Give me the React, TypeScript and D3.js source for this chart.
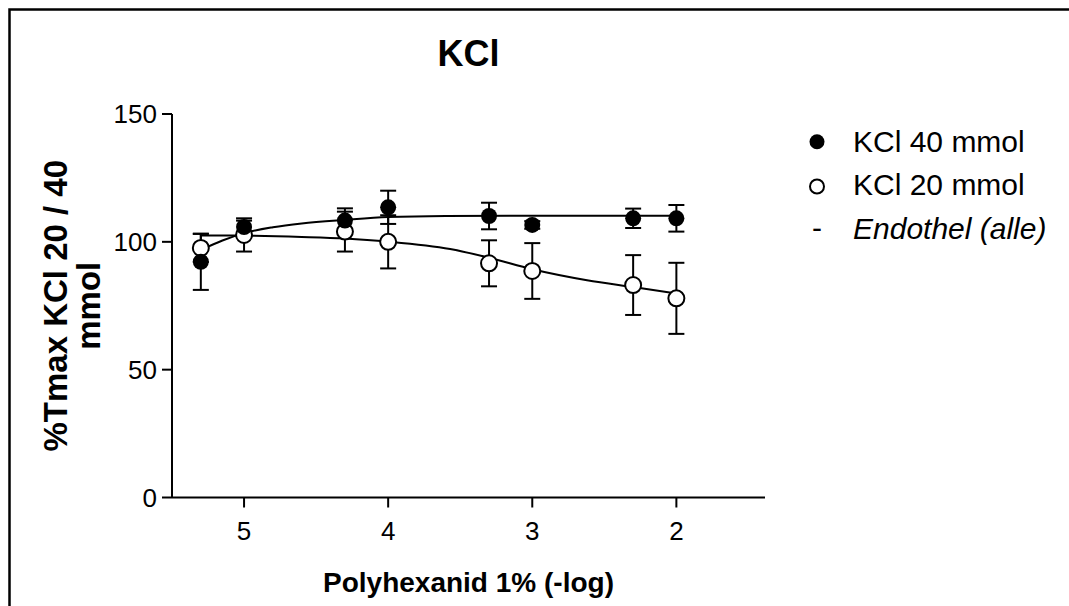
import * as d3 from "d3";

// Polyhexanid 1%, -log concentration
const DOSES = [5.3, 5.0, 4.3, 4.0, 3.3, 3.0, 2.3, 2.0];

// KCl 40 mmol (filled)
const KCL40_MEAN = [92.2, 105.8, 108.3, 113.5, 110.1, 106.6, 109.2, 109.2];
const KCL40_SEM = [11.0, 2.5, 4.8, 6.5, 5.2, 1.5, 3.8, 5.2];

// KCl 20 mmol (open)
const KCL20_MEAN = [97.6, 102.7, 104.0, 100.0, 91.6, 88.6, 83.1, 77.9];
const KCL20_SEM = [5.5, 6.5, 7.8, 10.4, 9.0, 10.9, 11.7, 13.9];

// fitted curves
const FIT40_X = [5.3, 5.15, 5.0, 4.8, 4.6, 4.3, 4.0, 3.6, 3.0, 2.0];
const FIT40_Y = [96.8, 100.5, 103.4, 105.7, 107.2, 108.6, 109.7, 110.1, 110.2, 110.2];
const FIT20_X = [5.3, 5.0, 4.6, 4.3, 4.0, 3.57, 3.3, 3.0, 2.62, 2.3, 2.0];
const FIT20_Y = [102.5, 102.4, 101.9, 101.3, 100.1, 97.2, 93.8, 89.3, 85.0, 82.3, 79.8];

const X_TICKS = [5, 4, 3, 2];
const Y_TICKS = [0, 50, 100, 150];

const LEGEND = ["KCl 40 mmol", "KCl 20 mmol", "Endothel (alle)"];

const FONT = "Arial, 'Liberation Sans', sans-serif";

export default function App() {
  const W = 1069;
  const H = 606;
  const x = d3.scaleLinear().domain([5.5, 1.385]).range([172, 765]);
  const y = d3.scaleLinear().domain([0, 150]).range([497.5, 114]);

  const line = d3
    .line<[number, number]>()
    .x((d) => x(d[0]))
    .y((d) => y(d[1]))
    .curve(d3.curveMonotoneX);

  const fit40 = FIT40_X.map((v, i) => [v, FIT40_Y[i]] as [number, number]);
  const fit20 = FIT20_X.map((v, i) => [v, FIT20_Y[i]] as [number, number]);

  const cap = 8;
  const r = 8;

  const errBars = (means: number[], sems: number[], key: string) =>
    DOSES.map((d, i) => {
      const cx = x(d);
      const y0 = y(means[i] - sems[i]);
      const y1 = y(means[i] + sems[i]);
      return (
        <g key={key + i} stroke="#000" strokeWidth={2}>
          <line x1={cx} x2={cx} y1={y0} y2={y1} />
          <line x1={cx - cap} x2={cx + cap} y1={y0} y2={y0} />
          <line x1={cx - cap} x2={cx + cap} y1={y1} y2={y1} />
        </g>
      );
    });

  const [x0, x1] = x.range();
  const [yb, yt] = y.range();

  return (
    <svg
      width={W}
      height={H}
      style={{ position: "absolute", left: 0, top: 0, background: "#fff" }}
      fontFamily={FONT}
    >
      <rect x={9.5} y={9.5} width={W + 20} height={H + 20} fill="#fff" stroke="#000" strokeWidth={2.5} />

      <text x={(x0 + x1) / 2} y={66} textAnchor="middle" fontWeight="bold" fontSize={36}>
        KCl
      </text>

      {/* axes */}
      <line x1={x0} x2={x0} y1={yt} y2={yb} stroke="#000" strokeWidth={2} />
      <line x1={x0} x2={x1} y1={yb} y2={yb} stroke="#000" strokeWidth={2} />
      {Y_TICKS.map((t) => (
        <g key={"yt" + t}>
          <line x1={x0 - 10} x2={x0} y1={y(t)} y2={y(t)} stroke="#000" strokeWidth={2} />
          <text x={x0 - 15} y={y(t)} dy="0.35em" textAnchor="end" fontSize={26}>
            {t}
          </text>
        </g>
      ))}
      {X_TICKS.map((t) => (
        <g key={"xt" + t}>
          <line x1={x(t)} x2={x(t)} y1={yb} y2={yb + 10} stroke="#000" strokeWidth={2} />
          <text x={x(t)} y={yb + 42} textAnchor="middle" fontSize={26}>
            {t}
          </text>
        </g>
      ))}

      <text x={(x0 + x1) / 2} y={592} textAnchor="middle" fontWeight="bold" fontSize={28}>
        Polyhexanid 1% (-log)
      </text>
      <g transform={`translate(0,${(yt + yb) / 2}) rotate(-90)`}>
        <text x={0} y={67} textAnchor="middle" fontWeight="bold" fontSize={33}>
          %Tmax KCl 20 / 40
        </text>
        <text x={0} y={100} textAnchor="middle" fontWeight="bold" fontSize={33}>
          mmol
        </text>
      </g>

      {/* fitted curves */}
      <path d={line(fit40) ?? ""} fill="none" stroke="#000" strokeWidth={2} />
      <path d={line(fit20) ?? ""} fill="none" stroke="#000" strokeWidth={2} />

      {errBars(KCL20_MEAN, KCL20_SEM, "e20")}
      {errBars(KCL40_MEAN, KCL40_SEM, "e40")}

      {DOSES.map((d, i) => (
        <circle key={"o" + i} cx={x(d)} cy={y(KCL20_MEAN[i])} r={r} fill="#fff" stroke="#000" strokeWidth={2} />
      ))}
      {DOSES.map((d, i) => (
        <circle key={"f" + i} cx={x(d)} cy={y(KCL40_MEAN[i])} r={r} fill="#000" />
      ))}

      {/* legend */}
      <circle cx={817} cy={141.7} r={7.5} fill="#000" />
      <circle cx={817} cy={186.5} r={7} fill="#fff" stroke="#000" strokeWidth={2} />
      <text x={817} y={238} textAnchor="middle" fontSize={30}>
        -
      </text>
      {LEGEND.map((s, i) => (
        <text
          key={s}
          x={853}
          y={152 + i * 43.3}
          fontSize={30}
          fontStyle={i === 2 ? "italic" : "normal"}
        >
          {s}
        </text>
      ))}
    </svg>
  );
}
